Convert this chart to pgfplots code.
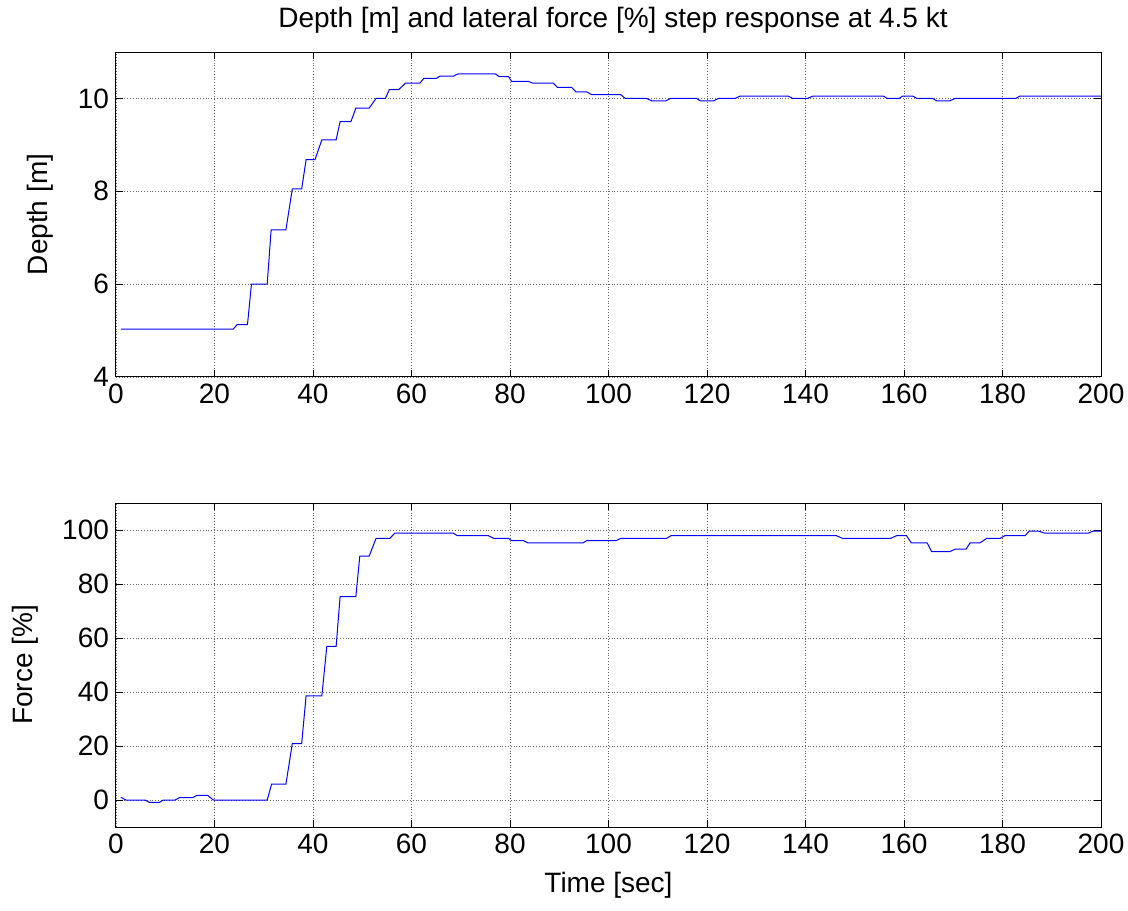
\documentclass[border=0pt]{standalone}
\usepackage{fontspec}
\setmainfont{Liberation Sans}
\usepackage{pgfplots}
\pgfplotsset{compat=1.18}

\pgfplotsset{
  matlab/.style={
    width=492.5pt, height=162.5pt, scale only axis,
    xmin=0, xmax=200, xtick={0,20,...,200},
    grid=major, grid style={densely dotted, black!60, line width=0.4pt},
    tick align=inside, xtick pos=both, ytick pos=both,
    major tick length=3.5pt, tick style={black, line width=0.5pt},
    axis line style={line width=0.5pt},
    /pgf/number format/assume math mode=true,
    tick label style={font=\fontsize{14}{16}\selectfont},
    label style={font=\fontsize{14}{16}\selectfont},
  },
}

\begin{document}
\begin{tikzpicture}
\useasboundingbox (0,0) rectangle (564pt,455pt);

% depth
\begin{axis}[matlab, at={(58pt,266.5pt)}, anchor=south west,
    ymin=4, ymax=11, ytick={4,6,8,10},
    ylabel={Depth [m]},
    ylabel style={at={(axis description cs:-0.0772,0.5)}, anchor=center},
]
\addplot[blue, line width=0.5pt] coordinates {
  (1,5.03)(23.8,5.03)(24.6,5.13)(26.7,5.13)(27.5,6.0)(30.7,6.0)(31.5,7.17)
  (34.5,7.17)(35.8,8.05)(37.7,8.05)(38.6,8.68)(40.4,8.68)(41.8,9.11)(44.7,9.11)
  (45.5,9.5)(47.7,9.5)(48.7,9.79)(51.4,9.79)(52.8,10.0)(54.7,10.0)(55.5,10.19)
  (57.4,10.19)(58.8,10.33)(61.7,10.33)(62.5,10.43)(65,10.43)(65.8,10.48)
  (68.5,10.48)(69.5,10.53)(77,10.53)(77.8,10.47)(79.7,10.47)(80.3,10.37)
  (83.7,10.37)(84.6,10.33)(88.8,10.33)(89.6,10.24)(92.5,10.24)(93.4,10.14)
  (95.6,10.14)(96.6,10.08)(102.5,10.08)(103.4,10.0)(107.7,10.0)(108.8,9.95)
  (111.7,9.95)(112.6,10.0)(117.9,10.0)(118.6,9.95)(121.4,9.95)(122.3,10.0)
  (125.7,10.0)(126.7,10.05)(136.5,10.05)(137.4,10.0)(140.4,10.0)(141.5,10.05)
  (155.8,10.05)(156.6,10.0)(159,10.0)(159.7,10.05)(161.8,10.05)(162.6,10.0)
  (165.8,10.0)(166.6,9.95)(169.3,9.95)(170.4,10.0)(182.7,10.0)(183.5,10.05)
  (200,10.05)};
\end{axis}
\node[font=\fontsize{14}{16}\selectfont] at (306.5pt,445pt)
  {Depth [m] and lateral force [\%] step response at 4.5 kt};

% lateral force
\begin{axis}[matlab, at={(58pt,41.5pt)}, anchor=south west,
    height=162pt,
    ymin=-10, ymax=110, ytick={0,20,...,100},
    xlabel={Time [sec]},
    xlabel style={at={(axis description cs:0.5,-0.179)}, anchor=center},
    ylabel={Force [\%]},
    ylabel style={at={(axis description cs:-0.0924,0.5)}, anchor=center},
]
\addplot[blue, line width=0.5pt] coordinates {
  (1,1.0)(2,0)(5.9,0)(6.8,-0.9)(8.8,-0.9)(9.6,0)(12,0)(12.9,0.9)(15.6,0.9)
  (16.4,1.7)(18.6,1.7)(19.8,0)(30.7,0)(31.6,5.9)(34.5,5.9)(35.8,20.9)
  (37.7,20.9)(38.6,38.6)(41.8,38.6)(42.8,56.9)(44.7,56.9)(45.5,75.3)
  (48.7,75.3)(49.5,90.3)(51.4,90.3)(52.8,96.9)(55.6,96.9)(56.6,98.8)
  (68.5,98.8)(69.3,97.9)(75.6,97.9)(76.7,96.9)(79.7,96.9)(80.3,96.1)
  (82.7,96.1)(83.7,95.2)(94.8,95.2)(95.6,96.1)(101.6,96.1)(102.5,96.9)
  (111.8,96.9)(112.7,97.9)(146.3,97.9)(147.5,96.9)(157.3,96.9)(158.5,97.9)
  (160.5,97.9)(161.5,95.2)(164.7,95.2)(165.6,92.0)(169.3,92.0)(170.4,92.9)
  (172.6,92.9)(173.4,95.2)(175.4,95.2)(176.8,96.9)(179.5,96.9)(180.5,97.9)
  (184.6,97.9)(185.4,99.6)(187.3,99.6)(188.6,98.8)(197.4,98.8)(198.4,99.6)
  (200,99.6)};
\end{axis}
\end{tikzpicture}
\end{document}
